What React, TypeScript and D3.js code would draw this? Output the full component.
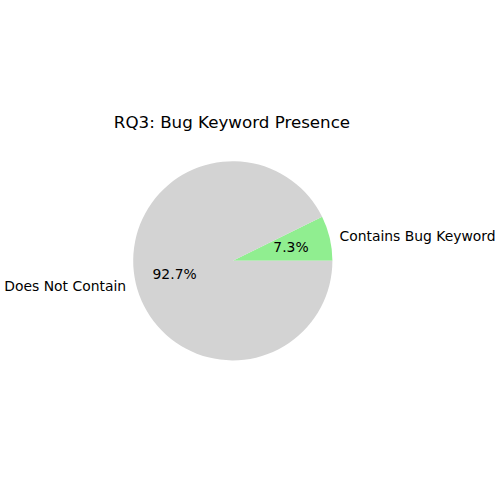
import React from "react";
import * as d3 from "d3";

const labels = ["Contains Bug Keyword", "Does Not Contain"];
const values = [7.3, 92.7];
const colors = ["#90ee90", "#d3d3d3"];
const title = "RQ3: Bug Keyword Presence";

export default function App() {
  const W = 500, H = 500;
  const cx = 232.8, cy = 260.8, r = 99.6;
  const total = d3.sum(values);
  // matplotlib: start at angle 0 (east), counterclockwise
  const angle = d3.scaleLinear().domain([0, total]).range([0, 2 * Math.PI]);
  let acc = 0;
  const slices = values.map((v, i) => {
    const a0 = angle(acc);
    acc += v;
    const a1 = angle(acc);
    return { v, i, a0, a1 };
  });
  // convert math angle (ccw from east) to d3 arc angle (cw from north)
  const toD3 = (a: number) => Math.PI / 2 - a;
  const arc = d3.arc<any>().innerRadius(0).outerRadius(r);
  const font = "DejaVu Sans, sans-serif";
  return (
    <svg width={W} height={H} style={{ position: "absolute", left: 0, top: 0, background: "#fff" }}>
      <rect width={W} height={H} fill="#fff" />
      <text x={232} y={127.5} textAnchor="middle" fontFamily={font} fontSize={16.7} fill="#000">
        {title}
      </text>
      <g transform={`translate(${cx},${cy})`}>
        {slices.map((s) => (
          <path
            key={s.i}
            d={arc({ startAngle: toD3(s.a1), endAngle: toD3(s.a0) }) as string}
            fill={colors[s.i]}
          />
        ))}
        {slices.map((s) => {
          const m = (s.a0 + s.a1) / 2;
          const lx = 1.1 * r * Math.cos(m);
          const ly = -1.1 * r * Math.sin(m);
          const px = 0.6 * r * Math.cos(m);
          const py = -0.6 * r * Math.sin(m);
          return (
            <g key={"l" + s.i}>
              <text
                x={lx}
                y={ly}
                dy="0.35em"
                textAnchor={lx >= 0 ? "start" : "end"}
                fontFamily={font}
                fontSize={13.9}
                fill="#000"
              >
                {labels[s.i]}
              </text>
              <text x={px} y={py} dy="0.35em" textAnchor="middle" fontFamily={font} fontSize={13.9} fill="#000">
                {s.v.toFixed(1) + "%"}
              </text>
            </g>
          );
        })}
      </g>
    </svg>
  );
}
